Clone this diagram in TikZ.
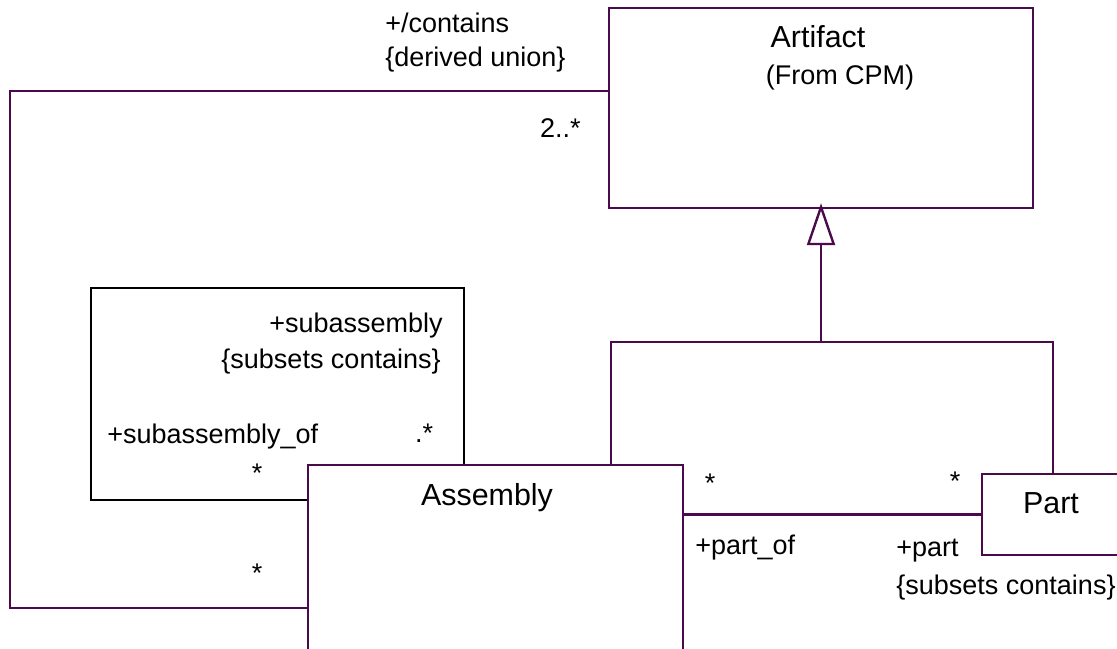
\documentclass[tikz,border=0pt]{standalone}
\usepackage{fontspec}
\setmainfont{Liberation Sans}
\usetikzlibrary{arrows.meta,calc}
\definecolor{umlpurple}{RGB}{75,10,75}

\begin{document}
\begin{tikzpicture}[x=0.5pt,y=-0.5pt,
    cls/.style={draw=umlpurple, line width=1.2pt, inner sep=0pt},
    line/.style={draw=umlpurple, line width=1.2pt},
    selfline/.style={draw=black, line width=1.2pt},
    gen/.style={line, shorten >=-3pt, -{Triangle[open, length=21pt, width=14pt, fill=white]}},
    lbl/.style={inner sep=0pt, font=\fontsize{13.5}{16}\selectfont},
    clsname/.style={inner sep=0pt, font=\fontsize{15.2}{18}\selectfont}]
      \useasboundingbox (0,0) rectangle (1117,648);
      \clip (0,0) rectangle (1117,648);

      % classes
      \node[cls, minimum width=212pt, minimum height=100pt] (artifact) at (821,108) {};
      \node[cls, minimum width=187.5pt, minimum height=112.5pt] (assembly) at (495.5,577.5) {};
      \node[cls, minimum width=71pt, minimum height=40.5pt] (part) at (1053,514.5) {};
      \node[clsname] (artifactname) at (818,37) {Artifact};
      \node[lbl] (artifactfrom) at (840,78) {(From CPM)};
      \node[clsname] (assemblyname) at (487,498) {Assembly};
      \node[clsname] (partname) at (1051,503) {Part};

      % generalisation
      \coordinate (genjoint) at (artifact.south |- 0,342);
      \draw[line] ([xshift=152pt]assembly.north west) |- (genjoint) -| (part.north);
      \draw[gen] (genjoint) -- (artifact.south);

      % associations
      \coordinate (containscorner) at (10,608);
      \draw[line] ([yshift=-42pt]artifact.north west) -| (containscorner) -- (assembly.west |- containscorner);
      \coordinate (subcorner) at (91,288);
      \draw[selfline] ([xshift=78.5pt]assembly.north west) |- (subcorner) |- (assembly.west |- 0,500);
      \draw[line] (assembly.east |- part.west) -- (part.west);

      % role names and multiplicities
      \node[lbl, anchor=west] (containsrole) at (385,23) {+/contains};
      \node[lbl, anchor=west] (containsunion) at (385,60) {\{derived union\}};
      \node[lbl, anchor=east] (containsmult) at (581,128) {2..*};
      \node[lbl] (containsowner) at (257,573) {*};
      \node[lbl, anchor=east] (subrole) at (443,326) {+subassembly};
      \node[lbl, anchor=east] (subsubset) at (441,362) {\{subsets contains\}};
      \node[lbl, anchor=west] (subofrole) at (107,437) {+subassembly\_of};
      \node[lbl] (submult) at (424,433) {.*};
      \node[lbl] (subofmult) at (257,473) {*};
      \node[lbl] (partofmult) at (710,483) {*};
      \node[lbl] (partmult) at (955,481) {*};
      \node[lbl, anchor=west] (partofrole) at (695,548) {+part\_of};
      \node[lbl, anchor=west] (partrole) at (896,551) {+part};
      \node[lbl, anchor=west] (partsubset) at (896,588) {\{subsets contains\}};
\end{tikzpicture}
\end{document}
